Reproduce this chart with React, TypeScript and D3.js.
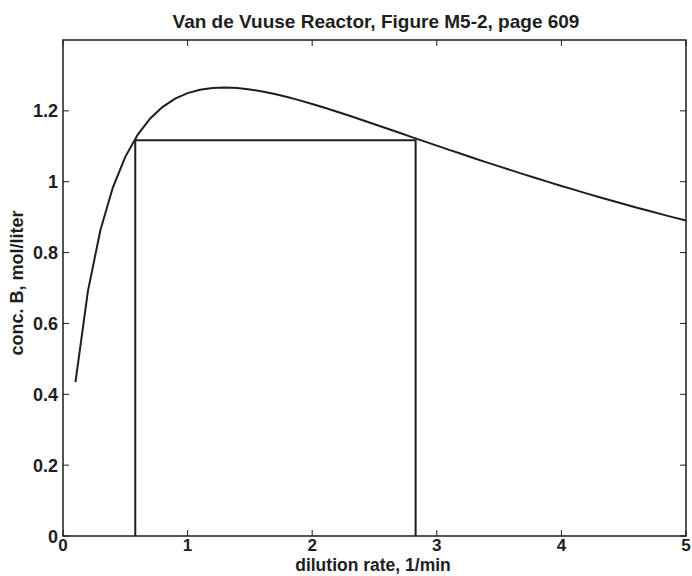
import React from "react";
import * as d3 from "d3";

const dilution = [0.1,0.2,0.3,0.4,0.5,0.6,0.7,0.8,0.9,1.0,1.1,1.2,1.3,1.4,1.5,1.6,1.7,1.8,1.9,2.0,2.1,2.2,2.3,2.4,2.5,2.6,2.7,2.8,2.9,3.0,3.1,3.2,3.3,3.4,3.5,3.6,3.7,3.8,3.9,4.0,4.1,4.2,4.3,4.4,4.5,4.6,4.7,4.8,4.9,5.0];
const concB = [0.4341,0.6914,0.8631,0.9836,1.0701,1.1330,1.1786,1.2114,1.2345,1.2500,1.2596,1.2646,1.2660,1.2644,1.2605,1.2547,1.2474,1.2390,1.2296,1.2194,1.2087,1.1975,1.1860,1.1742,1.1623,1.1502,1.1381,1.1260,1.1139,1.1019,1.0899,1.0781,1.0663,1.0547,1.0432,1.0319,1.0207,1.0097,0.9988,0.9881,0.9776,0.9672,0.9570,0.9470,0.9371,0.9274,0.9179,0.9085,0.8993,0.8903];
const rectX = [0.58, 2.83];
const rectY = [0, 1.117];
const xTicks = [0, 1, 2, 3, 4, 5];
const yTicks = [0, 0.2, 0.4, 0.6, 0.8, 1, 1.2];
const title = "Van de Vuuse Reactor, Figure M5-2, page 609";
const xLabel = "dilution rate, 1/min";
const yLabel = "conc. B, mol/liter";

export default function App() {
  const W = 692, H = 576;
  const L = 63, R = 686, T = 40, B = 536;
  const x = d3.scaleLinear().domain([0, 5]).range([L, R]);
  const y = d3.scaleLinear().domain([0, 1.4]).range([B, T]);
  const line = d3.line<number>().x((_, i) => x(dilution[i])).y((d) => y(d));
  const rectPath = d3.line<[number, number]>().x((d) => x(d[0])).y((d) => y(d[1]))([
    [rectX[0], rectY[0]],
    [rectX[0], rectY[1]],
    [rectX[1], rectY[1]],
    [rectX[1], rectY[0]],
  ]);
  const font = "'Liberation Sans', Arial, Helvetica, sans-serif";
  const tl = 6;
  const ink = "#1e1e1e";
  return (
    <svg width={W} height={H} style={{ position: "absolute", left: 0, top: 0, background: "#fff" }} fontFamily={font}>
      <rect x={0} y={0} width={W} height={H} fill="#fff" />
      <text x={376} y={28} textAnchor="middle" fontSize={19} fontWeight="bold" fill={ink}>{title}</text>
      {xTicks.map((t) => (
        <g key={"x" + t}>
          <line x1={x(t)} x2={x(t)} y1={B} y2={B - tl} stroke={ink} strokeWidth={1} />
          <line x1={x(t)} x2={x(t)} y1={T} y2={T + tl} stroke={ink} strokeWidth={1} />
          <text x={x(t)} y={B + 15} textAnchor="middle" fontSize={17} fontWeight="bold" fill={ink}>{t}</text>
        </g>
      ))}
      {yTicks.map((t) => (
        <g key={"y" + t}>
          <line x1={L} x2={L + tl} y1={y(t)} y2={y(t)} stroke={ink} strokeWidth={1} />
          <line x1={R} x2={R - tl} y1={y(t)} y2={y(t)} stroke={ink} strokeWidth={1} />
          <text x={L - 5} y={y(t) + 6.5} textAnchor="end" fontSize={18} fontWeight="bold" fill={ink}>{d3.format("~g")(t)}</text>
        </g>
      ))}
      <path d={line(concB) || ""} fill="none" stroke={ink} strokeWidth={2} />
      <path d={rectPath || ""} fill="none" stroke={ink} strokeWidth={2} />
      <rect x={L} y={T} width={R - L} height={B - T} fill="none" stroke={ink} strokeWidth={1.5} />
      <text x={373} y={571} textAnchor="middle" fontSize={17.5} fontWeight="bold" fill={ink}>{xLabel}</text>
      <text transform={`translate(23,283) rotate(-90)`} textAnchor="middle" fontSize={18} fontWeight="bold" fill={ink}>{yLabel}</text>
    </svg>
  );
}
